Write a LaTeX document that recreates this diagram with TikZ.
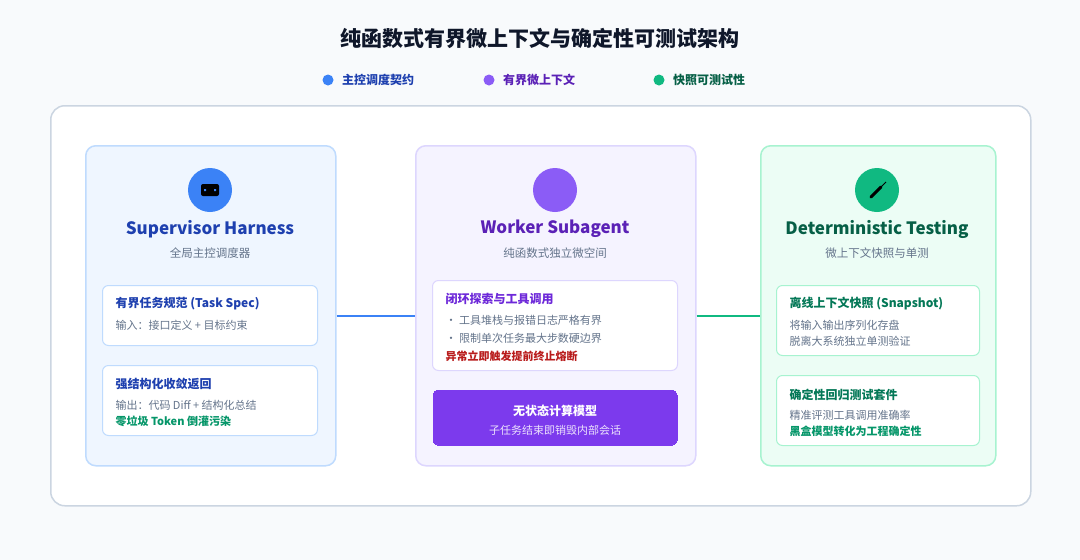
\documentclass[tikz,border=0pt]{standalone}
\usepackage{fontspec}
\setmainfont{Noto Sans CJK SC}
\usetikzlibrary{positioning}
\definecolor{bgpage}{HTML}{F8FAFC}
\definecolor{edgegray}{HTML}{CBD5E1}
\definecolor{txtgray}{HTML}{64748B}
\definecolor{darkink}{HTML}{0F172A}
\definecolor{blueA}{HTML}{3B82F6}
\definecolor{blueB}{HTML}{1E40AF}
\definecolor{blueFill}{HTML}{EFF6FF}
\definecolor{blueLine}{HTML}{BFDBFE}
\definecolor{purA}{HTML}{8B5CF6}
\definecolor{purB}{HTML}{5B21B6}
\definecolor{purC}{HTML}{6D28D9}
\definecolor{purD}{HTML}{7C3AED}
\definecolor{purFill}{HTML}{F5F3FF}
\definecolor{purLine}{HTML}{DDD6FE}
\definecolor{grnA}{HTML}{10B981}
\definecolor{grnB}{HTML}{065F46}
\definecolor{grnC}{HTML}{047857}
\definecolor{grnD}{HTML}{059669}
\definecolor{grnFill}{HTML}{ECFDF5}
\definecolor{grnLine}{HTML}{A7F3D0}
\definecolor{redA}{HTML}{B91C1C}
\tikzset{
  card/.style={draw, line width=1.5pt, rounded corners=10pt, anchor=north west, inner sep=0pt},
  subbox/.style={draw=#1, line width=1pt, fill=white, rounded corners=6pt, anchor=north west, inner sep=0pt},
  icon/.style={circle, fill=#1, minimum size=44pt, inner sep=0pt},
  head/.style={font=\fontsize{17}{20}\selectfont\bfseries, text=#1},
  sub/.style={font=\fontsize{11.5}{14}\selectfont, text=txtgray},
  itemhead/.style={font=\fontsize{12}{14}\selectfont\bfseries, text=#1, anchor=west},
  itemline/.style={font=\fontsize{11}{13}\selectfont, text=txtgray, anchor=west},
  legdot/.style={circle, fill=#1, minimum size=11pt, inner sep=0pt},
  link/.style={line width=2pt, draw=#1}
}
\begin{document}
\begin{tikzpicture}[x=1pt,y=-1pt]
  \fill[bgpage] (0,0) rectangle (1080,560);
  \useasboundingbox (0,0) rectangle (1080,560);

  % title and legend
  \node[font=\fontsize{21}{24}\selectfont\bfseries, text=darkink] (title) at (540,38) {纯函数式有界微上下文与确定性可测试架构};
  \node[legdot=blueA] (dotA) at (328,80) {};
  \node[right=5pt of dotA, font=\fontsize{12}{14}\selectfont\bfseries, text=blueB] (legA) {主控调度契约};
  \node[legdot=purA] (dotB) at (489,80) {};
  \node[right=5pt of dotB, font=\fontsize{12}{14}\selectfont\bfseries, text=purB] (legB) {有界微上下文};
  \node[legdot=grnA] (dotC) at (659,80) {};
  \node[right=5pt of dotC, font=\fontsize{12}{14}\selectfont\bfseries, text=grnB] (legC) {快照可测试性};

  % frame
  \node[card, draw=edgegray, fill=white, rounded corners=14pt, minimum width=980pt, minimum height=400pt] (frame) at (50,105) {};

  % supervisor
  \node[card, draw=blueLine, fill=blueFill, minimum width=250pt, minimum height=320pt] (sup) at (85,145) {};
  \node[icon=blueA] (supicon) at (210,190) {};
  \fill[black, rounded corners=2pt] (201,184) rectangle (219,196);
  \fill[blueA] (204,189) rectangle (206,191) (214,189) rectangle (216,191);
  \node[head=blueB] (suphead) at (210,229) {Supervisor Harness};
  \node[sub] (supsub) at (210,253) {全局主控调度器};
  \node[subbox=blueLine, minimum width=215pt, minimum height=60pt] (spec) at (102,285) {};
  \node[itemhead=blueB] at (112,304) {有界任务规范 (Task Spec)};
  \node[itemline] at (112,325) {输入：接口定义 + 目标约束};
  \node[subbox=blueLine, minimum width=215pt, minimum height=70pt] (ret) at (102,365) {};
  \node[itemhead=blueB] at (112,384) {强结构化收敛返回};
  \node[itemline] at (112,405) {输出：代码 Diff + 结构化总结};
  \node[itemhead=grnD, font=\fontsize{11}{13}\selectfont\bfseries] at (112,421) {零垃圾 Token 倒灌污染};

  % worker
  \node[card, draw=purLine, fill=purFill, minimum width=280pt, minimum height=320pt] (wrk) at (415,145) {};
  \node[icon=purA] (wrkicon) at (555,190) {};
  \node[head=purB] (wrkhead) at (555,229) {Worker Subagent};
  \node[sub] (wrksub) at (555,253) {纯函数式独立微空间};
  \node[subbox=purLine, minimum width=245pt, minimum height=90pt] (loop) at (432,280) {};
  \node[itemhead=purC] at (442,299) {闭环探索与工具调用};
  \node[itemline] at (442,320) {・ 工具堆栈与报错日志严格有界};
  \node[itemline] at (442,338) {・ 限制单次任务最大步数硬边界};
  \node[itemhead=redA, font=\fontsize{11}{13}\selectfont\bfseries] at (442,356) {异常立即触发提前终止熔断};
  \node[card, draw=purD, fill=purD, line width=0pt, rounded corners=5pt, minimum width=244pt, minimum height=55pt] (state) at (433,390) {};
  \node[font=\fontsize{12}{14}\selectfont\bfseries, text=white] at (555,411) {无状态计算模型};
  \node[font=\fontsize{11}{13}\selectfont, text=white!85!purD] at (555,430) {子任务结束即销毁内部会话};

  % testing
  \node[card, draw=grnLine, fill=grnFill, minimum width=235pt, minimum height=320pt] (tst) at (760,145) {};
  \node[icon=grnA] (tsticon) at (877,190) {};
  \draw[black, line width=3pt, line cap=round] (871,197) -- (881,187);
  \draw[black, line width=0.8pt] (881,187) -- (886,182);
  \node[head=grnB] (tsthead) at (877,229) {Deterministic Testing};
  \node[sub] (tstsub) at (877,253) {微上下文快照与单测};
  \node[subbox=grnLine, minimum width=203pt, minimum height=70pt] (snap) at (776,285) {};
  \node[itemhead=grnC] at (786,304) {离线上下文快照 (Snapshot)};
  \node[itemline] at (786,325) {将输入输出序列化存盘};
  \node[itemline] at (786,341) {脱离大系统独立单测验证};
  \node[subbox=grnLine, minimum width=203pt, minimum height=70pt] (reg) at (776,375) {};
  \node[itemhead=grnC] at (786,395) {确定性回归测试套件};
  \node[itemline] at (786,415) {精准评测工具调用准确率};
  \node[itemhead=grnD, font=\fontsize{11}{13}\selectfont\bfseries] at (786,431) {黑盒模型转化为工程确定性};

  % links
  \draw[link=blueA] (sup.east |- spec.east) -- (wrk.west |- spec.east);
  \draw[link=grnA] (wrk.east |- spec.east) -- (tst.west |- spec.east);
\end{tikzpicture}
\end{document}
